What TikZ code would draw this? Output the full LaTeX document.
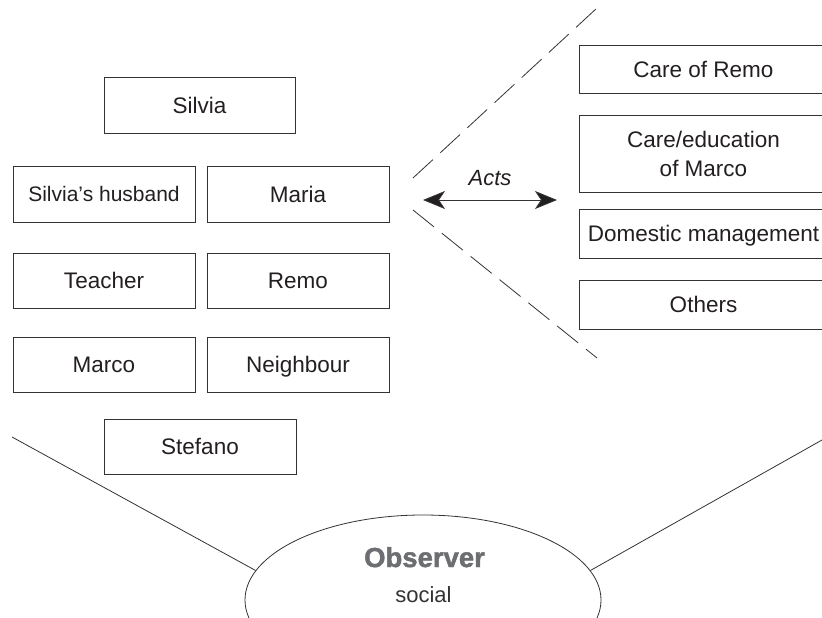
\documentclass[tikz,border=0pt]{standalone}
\usepackage{fontspec}
\setmainfont{Liberation Sans}
\newfontfamily\heavyfont{Liberation Sans Bold}[FakeBold=1.6]
\usetikzlibrary{arrows.meta,shapes.geometric}
\definecolor{ink}{HTML}{231F20}
\definecolor{rule}{HTML}{333333}
\definecolor{obsgray}{HTML}{6D6E71}
\begin{document}
\begin{tikzpicture}[x=1pt,y=-1pt,
  >={Stealth[length=22pt,width=18pt,inset=6pt,fill=ink]},
  box/.style={draw=rule, line width=1pt, inner sep=0pt, text=ink,
    font=\fontsize{22.5}{29}\selectfont},
  oneline/.style={box, text height=16.2pt, text depth=0pt},
  person/.style={oneline, minimum width=182pt, minimum height=55pt},
  act/.style={box, minimum width=249pt},
  wire/.style={draw=rule, line width=0.8pt},
  cone/.style={wire, dash pattern=on 27pt off 10pt}]
\useasboundingbox (0,0) rectangle (822,618);
\clip (0,0) rectangle (822,618);

% people
\node[oneline, minimum width=191pt, minimum height=55pt] (silvia) at (199.5,105.5) {Silvia};
\node[person, minimum height=56pt, font=\fontsize{21}{25}\selectfont, text height=15.1pt] (husband) at (104,194) {Silvia’s husband};
\node[person, minimum height=56pt] (maria) at (298,194) {Maria};
\node[person] (teacher) at (104,280.5) {Teacher};
\node[person] (remo) at (298,280.5) {Remo};
\node[person] (marco) at (104,364.5) {Marco};
\node[person] (neighbour) at (298,364.5) {Neighbour};
\node[oneline, minimum width=192pt, minimum height=55pt] (stefano) at (200,446.5) {Stefano};

% acts
\node[act, oneline, minimum height=47pt] (careremo) at (703.5,69.5) {Care of Remo};
\node[act, align=center, minimum height=77pt] (careedu) at (703.5,153.5) {Care/education\\of Marco};
\node[act, oneline, minimum height=49pt] (domestic) at (703.5,233.5) {Domestic management};
\node[act, oneline, minimum height=49pt] (others) at (703.5,304.5) {Others};

% the cone of acts
\coordinate (coneA) at (413,178);
\coordinate (coneB) at (597,8);
\coordinate (coneC) at (413,210);
\coordinate (coneD) at (597,358);
\draw[cone] (coneA) -- (coneB);
\draw[cone] (coneC) -- (coneD);

\coordinate (actsL) at (423,200);
\coordinate (actsR) at (557,200);
\draw[wire, <->] (actsL) -- (actsR);
\node[anchor=base, text=ink, font=\fontsize{22}{26}\selectfont\itshape] (actslbl) at (490,185) {Acts};

% observer
\node[ellipse, draw=rule, line width=0.8pt, minimum width=356pt, minimum height=170pt, inner sep=0pt] (obs) at (423,600) {};
\node[anchor=base, text=obsgray, font=\fontsize{27.5}{32}\heavyfont] (obslbl) at (424.5,567) {Observer};
\node[anchor=base, text=rule, font=\fontsize{22}{26}\selectfont] (sociallbl) at (423.5,602) {social};

\coordinate (viewL) at (12,437);
\coordinate (viewR) at (822,440);
\draw[wire] (viewL) -- (obs.170);
\draw[wire] (viewR) -- (obs.10);
\end{tikzpicture}
\end{document}
